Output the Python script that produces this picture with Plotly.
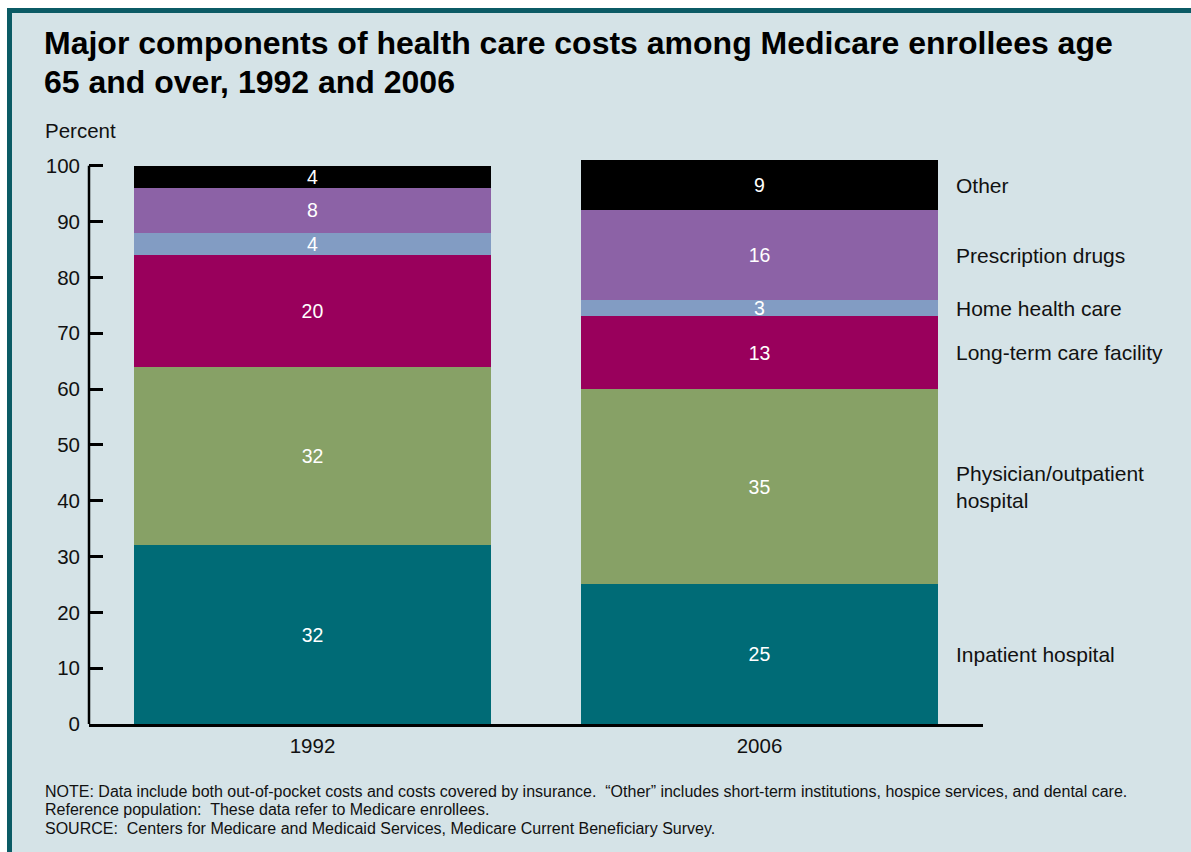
import numpy as np
import plotly.graph_objects as go

# Survey years on the x axis
years = ["1992", "2006"]

# Share of total health care costs (percent), bottom segment first
components = [
    "Inpatient hospital",
    "Physician/outpatient<br>hospital",
    "Long-term care facility",
    "Home health care",
    "Prescription drugs",
    "Other",
]
inpatient = [32, 25]
physician = [32, 35]
long_term = [20, 13]
home_health = [4, 3]
prescription = [8, 16]
other = [4, 9]

series = [inpatient, physician, long_term, home_health, prescription, other]
colors = ["#006b76", "#87a166", "#99005c", "#829cc3", "#8c62a6", "#000000"]

title_lines = [
    "Major components of health care costs among Medicare enrollees age",
    "65 and over, 1992 and 2006",
]
note_lines = [
    "NOTE: Data include both out-of-pocket costs and costs covered by insurance.  "
    "\u201cOther\u201d includes short-term institutions, hospice services, and dental care.",
    "Reference population:  These data refer to Medicare enrollees.",
    "SOURCE:  Centers for Medicare and Medicaid Services, Medicare Current Beneficiary Survey.",
]

FONT = "Liberation Sans, Arial, Helvetica, sans-serif"
BG = "#d5e3e7"
BORDER = "#0b5b65"
TXT = "#111111"

# plot area in pixels (for placing text outside it)
L, R, T, B = 89, 983, 159, 724
W, H = R - L, B - T


def px_x(px):
    return (px - L) / W


def px_y(py):
    return (B - py) / H


fig = go.Figure()
for name, vals, col in zip(components, series, colors):
    fig.add_trace(go.Bar(
        x=years, y=vals, name=name.replace("<br>", " "),
        marker=dict(color=col, line=dict(width=0)),
        text=[str(v) for v in vals], textposition="inside",
        insidetextanchor="middle", textangle=0,
        textfont=dict(color="white", size=19.5, family=FONT),
        width=0.8, hoverinfo="skip",
    ))

# Right-hand labels, centred on each 2006 segment
vals_2006 = np.array([s[1] for s in series], dtype=float)
tops = np.cumsum(vals_2006)
centers = tops - vals_2006 / 2
annotations = []
for name, c in zip(components, centers):
    annotations.append(dict(
        x=px_x(954), xref="paper", y=c, yref="y", text=name,
        showarrow=False, xanchor="left", yanchor="middle", align="left",
        font=dict(size=21, color=TXT, family=FONT),
    ))

# Title, two lines
for line, cy in zip(title_lines, [43, 82]):
    annotations.append(dict(
        x=px_x(42), xref="paper", y=px_y(cy), yref="paper",
        text=f"<b>{line}</b>", showarrow=False, xanchor="left", yanchor="middle",
        font=dict(size=32, color="#000000", family=FONT),
    ))

annotations.append(dict(
    x=px_x(43), xref="paper", y=px_y(130), yref="paper", text="Percent",
    showarrow=False, xanchor="left", yanchor="middle",
    font=dict(size=20.5, color=TXT, family=FONT),
))

for line, cy in zip(note_lines, [791, 809.5, 828]):
    annotations.append(dict(
        x=px_x(43), xref="paper", y=px_y(cy), yref="paper",
        text=line, showarrow=False, xanchor="left", yanchor="middle",
        font=dict(size=16, color=TXT, family=FONT),
    ))

shapes = [
    # framed panel behind the chart
    dict(type="rect", xref="paper", yref="paper", layer="below",
         x0=px_x(9.5), x1=px_x(1260), y0=px_y(900), y1=px_y(10.5),
         fillcolor=BG, line=dict(color=BORDER, width=5)),
    # y axis line, 0 to 100
    dict(type="line", xref="paper", yref="y", x0=0, x1=0, y0=0, y1=100,
         line=dict(color="black", width=2.5)),
]

fig.update_layout(
    width=1191, height=852,
    margin=dict(l=L, r=1191 - R, t=T, b=852 - B),
    paper_bgcolor="white", plot_bgcolor="rgba(0,0,0,0)",
    barmode="stack", bargap=0.2, showlegend=False,
    font=dict(family=FONT, color=TXT),
    xaxis=dict(
        range=[-0.5, 1.5], showline=True, linecolor="black", linewidth=2.5,
        ticks="", showgrid=False, zeroline=False,
        ticklabelstandoff=2,
        tickfont=dict(size=20.5, color=TXT, family=FONT),
    ),
    yaxis=dict(
        range=[0, 101.2], tickvals=list(range(0, 101, 10)),
        ticks="inside", ticklen=14, tickwidth=2.5, tickcolor="black",
        showline=False, showgrid=False, zeroline=False,
        ticklabelstandoff=8,
        tickfont=dict(size=20.5, color=TXT, family=FONT),
    ),
    uniformtext=dict(minsize=19, mode="show"),
    annotations=annotations, shapes=shapes,
)

fig.write_html("out.html")
